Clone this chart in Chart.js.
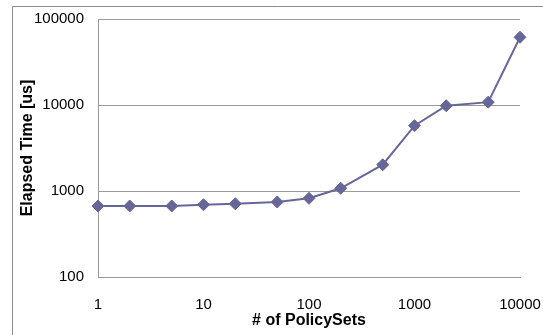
<!DOCTYPE html>
<html>
<head>
<meta charset="utf-8">
<script src="https://cdn.jsdelivr.net/npm/chart.js@4"></script>
<style>
  html, body { margin: 0; padding: 0; background: #fff; }
  #wrap { width: 543px; height: 335px; }
</style>
</head>
<body>
<div id="wrap"><canvas id="c" width="543" height="335"></canvas></div>
<script>
const policySets = [1, 2, 5, 10, 20, 50, 100, 200, 500, 1000, 2000, 5000, 10000];
const elapsedUs = [670, 670, 670, 693, 711, 745, 822, 1075, 2020, 5750, 9800, 10800, 61300];
const xTickValues = [1, 10, 100, 1000, 10000];
const yTickValues = [100, 1000, 10000, 100000];
const xTitle = '# of PolicySets';
const yTitle = 'Elapsed Time [us]';

const SERIES = '#666699';
const GRID = '#999999';

const outerBorder = {
  id: 'outerBorder',
  beforeDraw(chart) {
    const ctx = chart.ctx;
    ctx.save();
    ctx.strokeStyle = '#8c8c8c';
    ctx.lineWidth = 1;
    ctx.beginPath();
    ctx.moveTo(12.5, 335);
    ctx.lineTo(12.5, 6.5);
    ctx.lineTo(543, 6.5);
    ctx.stroke();
    ctx.restore();
  }
};

const tickFont = { family: '"Liberation Sans", Arial, sans-serif', size: 15 };
const titleFont = { family: '"Liberation Sans", Arial, sans-serif', size: 16, weight: 'bold' };

new Chart(document.getElementById('c'), {
  type: 'line',
  data: {
    datasets: [{
      data: policySets.map((x, i) => ({ x: x, y: elapsedUs[i] })),
      borderColor: SERIES,
      backgroundColor: SERIES,
      borderWidth: 2,
      pointStyle: 'rectRot',
      pointRadius: 6,
      pointBorderWidth: 1,
      pointBorderColor: SERIES,
      pointBackgroundColor: SERIES,
      tension: 0,
      clip: false
    }]
  },
  options: {
    responsive: false,
    animation: false,
    devicePixelRatio: 1,
    layout: { padding: { left: 0, right: 23, top: 19, bottom: 0 } },
    plugins: { legend: { display: false }, tooltip: { enabled: false } },
    scales: {
      x: {
        type: 'logarithmic',
        min: 1,
        max: 10000,
        afterBuildTicks: (s) => { s.ticks = xTickValues.map(v => ({ value: v })); },
        afterFit: (s) => { s.height = 58; },
        grid: { display: true, drawOnChartArea: false, drawTicks: true, tickLength: 19, tickColor: 'rgba(0,0,0,0)' },
        border: { display: true, color: GRID, width: 1 },
        ticks: {
          color: '#000',
          font: tickFont,
          padding: 0,
          maxRotation: 0,
          autoSkip: false,
          callback: (v) => String(v)
        },
        title: { display: true, text: xTitle, color: '#000', font: titleFont, padding: { top: 0, bottom: 5 } }
      },
      y: {
        type: 'logarithmic',
        min: 100,
        max: 100000,
        afterBuildTicks: (s) => { s.ticks = yTickValues.map(v => ({ value: v })); },
        afterFit: (s) => { s.width = 98; },
        grid: { display: true, color: GRID, lineWidth: 1, drawTicks: true, tickLength: 14, tickColor: 'rgba(0,0,0,0)' },
        border: { display: true, color: GRID, width: 1 },
        ticks: {
          color: '#000',
          font: tickFont,
          padding: 0,
          autoSkip: false,
          callback: (v) => String(v)
        },
        title: { display: true, text: yTitle, color: '#000', font: titleFont, padding: { top: 18, bottom: 0 } }
      }
    }
  },
  plugins: [outerBorder]
});
</script>
</body>
</html>
